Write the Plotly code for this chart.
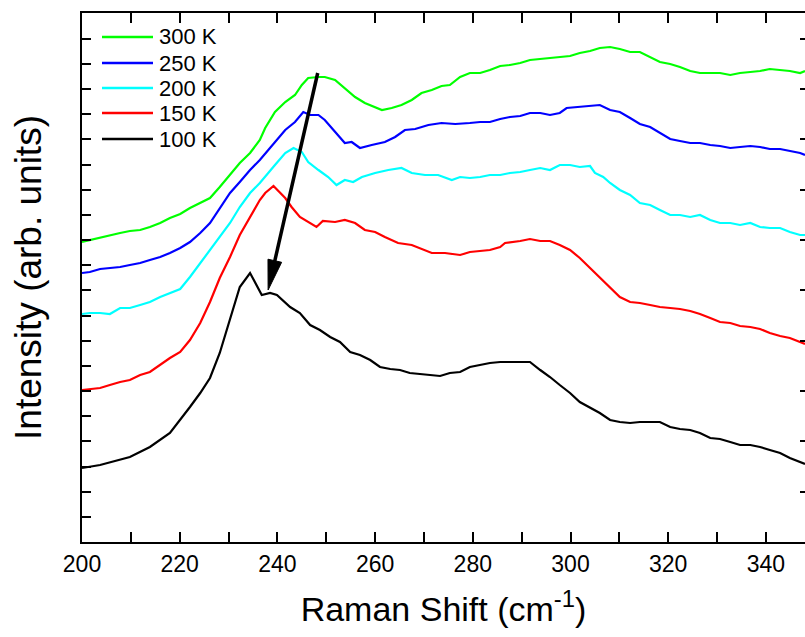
import math
import plotly.graph_objects as go

# ---------------- data (Raman shift in cm^-1, intensity in arb. units) ----------------
x_100 = [200.0, 203.7, 209.8, 213.9, 218.0, 220.1, 222.1, 224.2, 226.2, 228.2, 230.3, 232.3, 234.4, 235.4, 236.8, 238.5, 239.9, 242.6,
         244.6, 246.7, 248.7, 250.8, 252.8, 254.9, 256.9, 259.0, 261.0, 263.1, 265.1,
         267.1, 269.2, 271.2, 273.3, 275.3, 277.4, 279.4, 281.5, 283.5, 285.6,
         287.6, 289.7, 291.7, 293.8, 295.8, 297.8, 299.9, 301.9, 304.0, 306.0,
         308.1, 310.1, 312.2, 314.2, 316.3, 318.3, 320.4, 322.4, 324.5, 326.5,
         328.6, 330.6, 332.7, 334.7, 336.8, 338.8, 340.8, 342.9, 344.9, 347.0, 348.0]
i_100 = [74, 77, 85, 95, 109, 122, 135, 149, 164, 189, 222, 255, 269, 260, 247, 249, 247, 235,
         229, 217, 212, 205, 200, 190, 187, 182, 175, 173, 172,
         169, 168, 167, 166, 169, 170, 175, 177, 179, 180,
         180, 180, 180, 172, 165, 157, 149, 140, 134, 129,
         122, 120, 119, 120, 120, 120, 115, 113, 112, 109,
         104, 103, 100, 97, 97, 95, 92, 89, 84, 80, 78]

x_150 = [200.0, 201.6, 203.7, 205.7, 207.8, 209.8, 211.9, 213.9, 216.0, 218.0, 220.1, 222.1, 224.2, 226.2, 228.2, 230.3, 232.3, 234.4,
         236.4, 237.5, 239.2, 241.6, 242.9, 244.6, 246.7, 248.0, 249.3, 251.8, 253.8, 255.9, 257.9, 260.0, 262.0, 264.7,
         267.5, 269.5, 271.6, 274.3, 276.4, 277.4, 279.4, 281.5, 283.5, 285.6, 286.6, 289.7, 291.7, 293.8, 295.8, 297.8,
         299.9, 301.9, 304.0, 306.0, 308.1, 310.1, 312.2, 314.2, 316.3, 318.3, 320.4, 322.4, 324.5, 326.5, 328.6, 330.6,
         332.7, 334.7, 336.8, 338.8, 340.8, 342.9, 344.9, 347.0, 348.0]
i_150 = [152, 153, 154, 157, 160, 162, 167, 170, 177, 184, 190, 202, 219, 240, 264, 285, 307, 325,
         342, 349, 356, 344, 335, 325, 319, 315, 321, 320, 322, 319, 312, 310, 305, 299,
         297, 293, 289, 289, 288, 287, 290, 291, 292, 295, 299, 301, 303, 301, 301, 297,
         292, 284, 274, 264, 255, 245, 240, 239, 237, 235, 234, 233, 231, 228, 224, 220,
         219, 216, 215, 213, 209, 206, 204, 200, 198]

x_200 = [200.0, 201.6, 203.7, 205.7, 207.8, 209.8, 211.9, 213.9, 216.0, 218.0, 220.1, 222.1, 224.2, 226.2, 228.2, 230.3, 232.3, 234.4,
         236.4, 237.5, 239.5, 241.6, 243.3, 245.0, 246.3, 248.4, 250.4, 252.1, 253.8, 255.5, 257.3, 260.0, 262.7, 265.4,
         267.5, 270.2, 272.9, 275.7, 277.4, 279.4, 281.5, 283.5, 285.6, 287.6, 289.7, 291.7, 293.8, 295.8, 297.8, 299.9,
         301.9, 304.0, 305.0, 306.7, 308.1, 310.1, 312.2, 314.2, 316.3, 318.3, 320.4, 322.4, 324.5, 326.5, 328.6, 330.6,
         332.7, 334.7, 336.8, 338.8, 340.8, 342.9, 344.9, 347.0, 348.0]
i_200 = [228, 229, 229, 228, 234, 234, 237, 240, 245, 249, 253, 265, 279, 292, 305, 319, 335, 349,
         359, 365, 377, 389, 394, 390, 380, 372, 365, 357, 362, 360, 365, 369, 372, 374,
         369, 367, 367, 362, 365, 364, 365, 367, 367, 369, 370, 372, 374, 372, 377, 377,
         375, 376, 369, 365, 359, 352, 347, 339, 337, 332, 327, 327, 325, 327, 322, 319,
         319, 317, 319, 315, 314, 314, 310, 307, 307]

x_250 = [200.0, 201.6, 203.7, 205.7, 207.8, 209.8, 211.9, 213.9, 216.0, 218.0, 220.1, 222.1, 224.2, 226.2, 228.2, 230.3, 232.3, 234.4,
         236.4, 239.5, 241.6, 243.6, 245.3, 246.7, 248.4, 249.7, 251.8, 253.8, 255.2, 256.9, 259.3, 262.0, 264.1, 266.1,
         268.2, 270.9, 273.6, 276.4, 279.4, 281.5, 283.5, 285.6, 287.6, 289.7, 291.7, 293.8, 295.8, 297.8, 299.2, 301.3,
         303.3, 306.0, 308.1, 310.1, 312.2, 314.2, 316.3, 318.3, 320.4, 322.4, 324.5, 326.5, 328.6, 330.6, 332.7, 334.7,
         336.8, 338.8, 340.8, 342.9, 344.9, 347.0, 348.0]
i_250 = [269, 270, 273, 274, 275, 277, 279, 282, 285, 289, 294, 300, 309, 319, 334, 349, 360, 372,
         382, 400, 412, 420, 430, 427, 427, 422, 410, 399, 400, 394, 397, 400, 405, 412,
         413, 417, 419, 418, 419, 420, 420, 423, 425, 426, 429, 429, 427, 429, 434, 435,
         436, 437, 432, 430, 424, 418, 415, 409, 403, 401, 399, 399, 397, 396, 394, 395,
         396, 395, 393, 393, 391, 389, 387]

x_300 = [200.0, 201.6, 203.7, 205.7, 207.8, 209.8, 211.9, 213.9, 216.0, 218.0, 220.1, 222.1, 224.2, 226.2, 228.2, 230.3, 232.3, 234.4,
         236.4, 237.5, 239.5, 241.6, 243.6, 245.0, 246.3, 248.4, 249.7, 251.8, 253.8, 255.9, 257.9, 260.0, 261.4, 263.4,
         265.4, 267.5, 269.5, 271.6, 273.6, 275.3, 277.4, 279.4, 281.5, 283.5, 285.6, 287.6, 289.7, 291.7, 293.8, 295.8,
         297.8, 299.9, 301.9, 304.0, 306.0, 308.1, 310.1, 312.2, 314.2, 316.3, 318.3, 320.4, 322.4, 324.5, 326.5, 328.6,
         330.6, 332.7, 334.7, 336.8, 338.8, 340.8, 342.9, 344.9, 347.0, 348.0]
i_300 = [300, 302, 304, 307, 309, 311, 312, 315, 319, 324, 328, 334, 339, 344, 355, 367, 379, 389,
         402, 414, 430, 440, 447, 457, 464, 465, 465, 462, 454, 445, 439, 435, 432, 434,
         437, 442, 449, 452, 456, 457, 465, 469, 469, 472, 476, 477, 479, 482, 483, 484,
         485, 486, 489, 491, 494, 495, 493, 490, 490, 485, 480, 478, 475, 471, 469, 469,
         469, 467, 469, 470, 471, 473, 472, 471, 469, 471]

series_labels = ["300 K", "250 K", "200 K", "150 K", "100 K"]
series_x = [x_300, x_250, x_200, x_150, x_100]
series_i = [i_300, i_250, i_200, i_150, i_100]
series_colors = ["#00ff00", "#0000ff", "#00ffff", "#ff0000", "#000000"]

x_ticks = [200, 220, 240, 260, 280, 300, 320, 340]

# arrow (peak shift guide), data coordinates
arrow_start = (248.25, 469)
arrow_end = (238.1, 252)

# ---------------- layout constants ----------------
W, H = 805, 637
ML, MR, MT, MB = 82, 0, 13, 95
X_RANGE = [200, 348.0]
Y_RANGE = [0, 529]
Y_STEP = 25.16
FONT = "Liberation Sans, Arial, sans-serif"

PW, PH = W - ML - MR, H - MT - MB

def paper_x(px):
    return (px - ML) / PW

def paper_y(py):
    return (H - MB - py) / PH

fig = go.Figure()
for lab, xs, ys, col in zip(series_labels[::-1], series_x[::-1], series_i[::-1], series_colors[::-1]):
    fig.add_trace(go.Scatter(x=xs, y=ys, mode="lines", name=lab,
                             line=dict(color=col, width=2.2), showlegend=False))

# invisible trace for right-hand axis
fig.add_trace(go.Scatter(x=[X_RANGE[0]], y=[Y_RANGE[0]], yaxis="y2", mode="markers",
                         marker=dict(opacity=0), showlegend=False, hoverinfo="skip"))

shapes = []
annotations = []

# custom legend
leg_rows = [37, 63, 88, 113, 139]
for lab, col, py in zip(series_labels, series_colors, leg_rows):
    shapes.append(dict(type="line", xref="paper", yref="paper",
                       x0=paper_x(102), x1=paper_x(153), y0=paper_y(py), y1=paper_y(py),
                       line=dict(color=col, width=2.5)))
    annotations.append(dict(xref="paper", yref="paper", x=paper_x(157), y=paper_y(py),
                            text=lab, showarrow=False, xanchor="left", yanchor="middle",
                            font=dict(family=FONT, size=22, color="black")))

# arrow
sx = PW / (X_RANGE[1] - X_RANGE[0])
sy = PH / (Y_RANGE[1] - Y_RANGE[0])
x0, y0 = arrow_start
x1, y1 = arrow_end
dxp, dyp = (x1 - x0) * sx, (y1 - y0) * sy
L = math.hypot(dxp, dyp)
ux, uy = dxp / L, dyp / L
head_len, head_half = 30, 7
bx, by = x1 - head_len * ux / sx, y1 - head_len * uy / sy
c1x, c1y = bx + head_half * (-uy) / sx, by + head_half * ux / sy
c2x, c2y = bx - head_half * (-uy) / sx, by - head_half * ux / sy
sbx, sby = x1 - (head_len - 4) * ux / sx, y1 - (head_len - 4) * uy / sy
shapes.append(dict(type="line", xref="x", yref="y", x0=x0, y0=y0, x1=sbx, y1=sby,
                   line=dict(color="black", width=3.5)))
shapes.append(dict(type="path", xref="x", yref="y",
                   path=f"M {x1},{y1} L {c1x},{c1y} L {c2x},{c2y} Z",
                   fillcolor="black", line=dict(color="black", width=1)))

fig.update_layout(
    width=W, height=H,
    margin=dict(l=ML, r=MR, t=MT, b=MB, pad=0),
    paper_bgcolor="white", plot_bgcolor="white",
    font=dict(family=FONT, color="black"),
    shapes=shapes, annotations=annotations,
    showlegend=False,
    xaxis=dict(
        range=X_RANGE, tickmode="array", tickvals=x_ticks,
        ticks="inside", ticklen=10, tickwidth=2, tickcolor="black",
        minor=dict(dtick=10, tick0=200, ticks="inside", ticklen=6, tickwidth=2, tickcolor="black"),
        showline=True, linewidth=2, linecolor="black", mirror="allticks",
        showgrid=False, zeroline=False,
        tickfont=dict(family=FONT, size=23, color="black"),
        title=dict(text="Raman Shift (cm<sup>-1</sup>)", font=dict(family=FONT, size=34, color="black"),
                   standoff=22),
        automargin=False,
    ),
    yaxis=dict(
        range=Y_RANGE, tick0=0, dtick=2 * Y_STEP,
        ticks="inside", ticklen=9, tickwidth=2, tickcolor="black",
        minor=dict(dtick=Y_STEP, tick0=0, ticks="inside", ticklen=9, tickwidth=2, tickcolor="black"),
        showticklabels=False,
        showline=True, linewidth=2, linecolor="black", mirror=False,
        showgrid=False, zeroline=False,
        title=dict(text="Intensity (arb. units)", font=dict(family=FONT, size=37, color="black"),
                   standoff=27),
        automargin=False,
    ),
    yaxis2=dict(
        range=Y_RANGE, overlaying="y", side="right", tick0=0, dtick=2 * Y_STEP,
        ticks="inside", ticklen=5, tickwidth=2, tickcolor="black",
        showticklabels=False, showline=False, showgrid=False, zeroline=False,
    ),
)

fig.write_html("out.html")
